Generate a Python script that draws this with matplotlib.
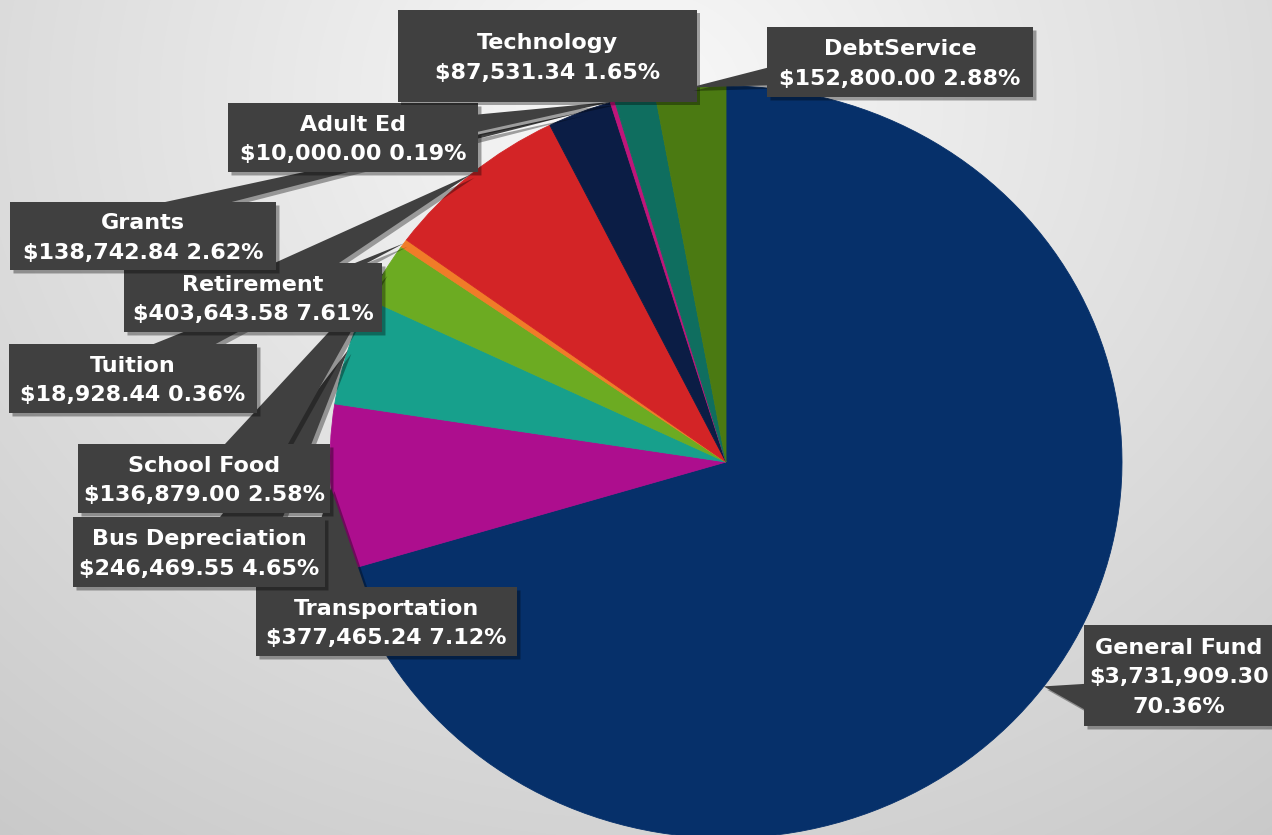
import numpy as np
import matplotlib
matplotlib.use("Agg")
import matplotlib.pyplot as plt
from matplotlib.patches import Polygon
import matplotlib.patheffects as pe

# ---- data -------------------------------------------------------------
categories = ["General Fund", "Transportation", "Bus Depreciation", "School Food",
              "Tuition", "Retirement", "Grants", "Adult Ed", "Technology",
              "DebtService"]
amounts = [3731909.30, 377465.24, 246469.55, 136879.00, 18928.44,
           403643.58, 138742.84, 10000.00, 87531.34, 152800.00]
colors = ["#06306a", "#ad0e8e", "#17a08c", "#6cab22", "#f07c28",
          "#d32426", "#0b1d45", "#c0157a", "#0f6e5f", "#4b7a12"]

# ---- layout (pixels, origin top-left) ---------------------------------
W, H = 1272, 835
CX, CY = 726, 462          # pie centre
RX, RY = 396, 376          # pie radii
# callout boxes: left, top, right, bottom
boxes = [(1084, 625, 1290, 726), (256, 587, 517, 656), (73, 517, 325, 587),
         (78, 444, 330, 513), (9, 344, 257, 413), (124, 263, 382, 332),
         (10, 202, 276, 270), (228, 103, 478, 172), (398, 10, 697, 102),
         (767, 27, 1033, 97)]
wrap_value = [True, False, False, False, False, False, False, False, False, False]

BOX_COLOR = "#404040"


def to_data(px, py):
    return (px - CX) / RX, (CY - py) / RY


def callout(box, tip):
    """Rectangle with a wedge tail pointing at tip (pixel coords)."""
    l, t, r, b = box
    w, h = r - l, b - t
    hc, vc = (l + r) / 2, (t + b) / 2
    xp, yp = tip
    dxp, dyp = xp - hc, yp - vc
    inside = l <= xp <= r and t <= yp <= b
    dq = abs(dxp * h / w) - abs(dyp)
    x1 = l + w * (7 if dxp > 0 else 2) / 12
    x2 = l + w * (10 if dxp > 0 else 5) / 12
    y1 = t + h * (7 if dyp > 0 else 2) / 12
    y2 = t + h * (10 if dyp > 0 else 5) / 12
    pts = [(l, t)]
    if not inside and dq <= 0 and dyp < 0:
        pts += [(x1, t), (xp, yp), (x2, t)]
    pts.append((r, t))
    if not inside and dq > 0 and dxp > 0:
        pts += [(r, y1), (xp, yp), (r, y2)]
    pts.append((r, b))
    if not inside and dq <= 0 and dyp > 0:
        pts += [(x2, b), (xp, yp), (x1, b)]
    pts.append((l, b))
    if not inside and dq > 0 and dxp < 0:
        pts += [(l, y2), (xp, yp), (l, y1)]
    return [to_data(x, y) for x, y in pts]


fig = plt.figure(figsize=(W / 100, H / 100), dpi=100)

# soft grey radial backdrop
bg = fig.add_axes([0, 0, 1, 1], zorder=0)
yy, xx = np.mgrid[0:H, 0:W]
d = np.sqrt(((xx - 640) / 850.0) ** 2 + ((yy - 100) / 750.0) ** 2)
g = np.clip(0.975 - 0.15 * d, 0, 1)
bg.imshow(np.dstack([g, g, g]), extent=(0, W, H, 0), aspect="auto",
          interpolation="bilinear")
bg.set_axis_off()

ax = fig.add_axes([0, 0, 1, 1], zorder=1)
ax.patch.set_alpha(0)
wedges, _ = ax.pie(amounts, colors=colors, startangle=90, counterclock=False,
                   radius=1, center=(0, 0),
                   wedgeprops=dict(linewidth=0.6, antialiased=True))
for wdg, c in zip(wedges, colors):
    wdg.set_edgecolor(c)
ax.set_aspect("auto")
ax.set_xlim(-CX / RX, (W - CX) / RX)
ax.set_ylim((CY - H) / RY, CY / RY)
ax.set_axis_off()

total = sum(amounts)
for i, (name, val, wdg, box) in enumerate(zip(categories, amounts, wedges, boxes)):
    mid = np.deg2rad((wdg.theta1 + wdg.theta2) / 2)
    tip_px = (CX + RX * np.cos(mid), CY - RY * np.sin(mid))
    poly = Polygon(callout(box, tip_px), closed=True, facecolor=BOX_COLOR,
                   edgecolor="none", zorder=10 + i)
    poly.set_path_effects([pe.SimplePatchShadow(offset=(2.5, -2.5),
                                                shadow_rgbFace="black",
                                                alpha=0.35),
                           pe.Normal()])
    ax.add_patch(poly)
    money = f"${val:,.2f}"
    pct = f"{val / total * 100:.2f}%"
    if wrap_value[i]:
        label = f"{name}\n{money}\n{pct}"
        cx = 1179
    else:
        label = f"{name}\n{money} {pct}"
        cx = (box[0] + box[2]) / 2
    cy = (box[1] + box[3]) / 2 + 2
    tx, ty = to_data(cx, cy)
    ax.text(tx, ty, label, ha="center", va="center", color="white",
            fontsize=16, fontweight="bold", family="DejaVu Sans",
            linespacing=1.62, zorder=10.5 + i)

fig.savefig("out.png", dpi=100)
